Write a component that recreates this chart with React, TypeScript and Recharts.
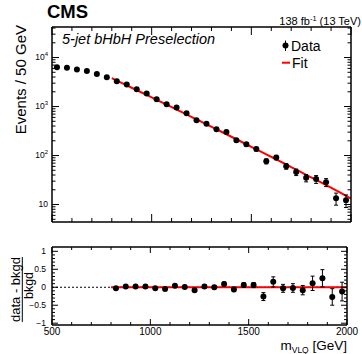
import React from 'react';
import { ComposedChart, Scatter, Line, XAxis, YAxis, ErrorBar, ReferenceLine } from 'recharts';

// ---------------- data ----------------
const binCenters = [525, 575, 625, 675, 725, 775, 825, 875, 925, 975, 1025, 1075, 1125, 1175, 1225, 1275, 1325, 1375, 1425, 1475, 1525, 1575, 1625, 1675, 1725, 1775, 1825, 1875, 1925, 1975];
const eventCounts = [6300, 6200, 5700, 5330, 4630, 3960, 3280, 2810, 2250, 1840, 1410, 1110, 955, 730, 525, 447, 344, 303, 205, 170, 136, 76.5, 91, 60.5, 46, 35, 33, 28.5, 13.4, 12.2];
const eventErrors = [79, 79, 75, 73, 68, 63, 57, 53, 47, 43, 38, 33, 31, 27, 23, 21, 19, 17, 14, 13, 12, 9, 9.5, 8, 7, 6, 6, 5.3, 3.7, 3.5];

const fitMass = [800, 825, 875, 925, 975, 1025, 1075, 1125, 1175, 1225, 1275, 1325, 1375, 1425, 1475, 1525, 1575, 1625, 1675, 1725, 1775, 1825, 1875, 1925, 1975, 2000];
const fitValues = [3800, 3390, 2704, 2158, 1722, 1371, 1091, 867, 689, 547, 434.5, 344, 272, 215, 170, 134, 106, 83.4, 65.6, 51.5, 40.5, 31.8, 24.9, 19.5, 15.1, 13.3];

const ratioMass = [825, 875, 925, 975, 1025, 1075, 1125, 1175, 1225, 1275, 1325, 1375, 1425, 1475, 1525, 1575, 1625, 1675, 1725, 1775, 1825, 1875, 1925, 1975];
const ratioValues = [-0.03, 0.02, 0.02, 0.02, -0.03, -0.05, 0.04, 0.01, -0.08, 0.02, 0, 0.09, -0.06, 0.06, 0.06, -0.26, 0.15, -0.03, -0.02, -0.08, 0.11, 0.25, -0.27, -0.12];
const ratioErrors = [0.02, 0.02, 0.02, 0.025, 0.03, 0.03, 0.035, 0.04, 0.04, 0.045, 0.05, 0.055, 0.06, 0.065, 0.07, 0.11, 0.14, 0.11, 0.12, 0.13, 0.2, 0.24, 0.23, 0.26];

const xTicks = [500, 600, 700, 800, 900, 1000, 1100, 1200, 1300, 1400, 1500, 1600, 1700, 1800, 1900, 2000];
const xMajorTicks = [500, 1000, 1500, 2000];

const yMajorTicks = [10, 100, 1000, 10000];
const yMajorExponents = ['', '2', '3', '4'];
const yTicks = [5, 6, 7, 8, 9, 10, 20, 30, 40, 50, 60, 70, 80, 90, 100, 200, 300, 400, 500, 600, 700, 800, 900, 1000, 2000, 3000, 4000, 5000, 6000, 7000, 8000, 9000, 10000, 20000, 30000, 40000];

const ratioTicks = [-1, -0.9, -0.8, -0.7, -0.6, -0.5, -0.4, -0.3, -0.2, -0.1, 0, 0.1, 0.2, 0.3, 0.4, 0.5, 0.6, 0.7, 0.8, 0.9, 1];
const ratioMajorTicks = [-1, -0.5, 0, 0.5, 1];
const ratioTickLabels = ['\u22121', '\u22120.5', '0', '0.5', '1'];

// ---------------- tables ----------------
const dataRows = binCenters.map((x, i) => ({ x, y: eventCounts[i], err: eventErrors[i] }));
const fitRows = fitMass.map((x, i) => ({ x, y: fitValues[i] }));
const ratioRows = ratioMass.map((x, i) => ({ x, y: ratioValues[i], err: ratioErrors[i] }));
const ratioFitRows = [fitMass[0], fitMass[fitMass.length - 1]].map((x) => ({ x, y: 0 }));

const FONT = "'Liberation Sans', Arial, Helvetica, sans-serif";
const W = 362;
const H = 354;

const isIn = (arr: number[], v: number) => arr.some((a) => Math.abs(a - v) < 1e-9);

function makeXTick(side: 'top' | 'bottom', majorLen: number, minorLen: number, withLabel: boolean) {
  return (props: any) => {
    const { x, y, payload } = props;
    const v = payload.value;
    const major = isIn(xMajorTicks, v);
    const len = major ? majorLen : minorLen;
    const dir = side === 'bottom' ? -1 : 1;
    return (
      <g>
        <line x1={x} x2={x} y1={y} y2={y + dir * len} stroke="#000" strokeWidth={1} />
        {withLabel && major && (
          <text x={x} y={y + 9.5} textAnchor="middle" fontSize={10} fontFamily={FONT} fill="#000">
            {v}
          </text>
        )}
      </g>
    );
  };
}

function makeLogYTick(side: 'left' | 'right') {
  return (props: any) => {
    const { x, y, payload } = props;
    const v = payload.value;
    const mi = yMajorTicks.findIndex((m) => Math.abs(m - v) < 1e-9);
    const major = mi >= 0;
    const len = major ? 7 : 3.5;
    const dir = side === 'left' ? 1 : -1;
    return (
      <g>
        <line x1={x} x2={x + dir * len} y1={y} y2={y} stroke="#000" strokeWidth={1} />
        {side === 'left' && major && (
          <text x={x - 4} y={y + 2} textAnchor="end" fontSize={8.5} fontFamily={FONT} fill="#000">
            10
            {yMajorExponents[mi] !== '' && (
              <tspan fontSize={6} dy={-3.5}>
                {yMajorExponents[mi]}
              </tspan>
            )}
          </text>
        )}
      </g>
    );
  };
}

function makeRatioYTick(side: 'left' | 'right') {
  return (props: any) => {
    const { x, y, payload } = props;
    const v = payload.value;
    const mi = ratioMajorTicks.findIndex((m) => Math.abs(m - v) < 1e-9);
    const major = mi >= 0;
    const len = major ? 6 : 3;
    const dir = side === 'left' ? 1 : -1;
    return (
      <g>
        <line x1={x} x2={x + dir * len} y1={y} y2={y} stroke="#000" strokeWidth={1} />
        {side === 'left' && major && (
          <text x={x - 6} y={y + 3} textAnchor="end" fontSize={8.5} fontFamily={FONT} fill="#000">
            {ratioTickLabels[mi]}
          </text>
        )}
      </g>
    );
  };
}

const Dot = (props: any) => {
  const { cx, cy } = props;
  if (cx == null || cy == null) return null;
  return <circle cx={cx} cy={cy} r={3} fill="#000" />;
};

const axisLine = { stroke: '#000', strokeWidth: 1.5 };

export default function App() {
  return (
    <div style={{ position: 'absolute', left: 0, top: 0, width: W, height: H, background: '#fff' }}>
      {/* upper panel */}
      <div style={{ position: 'absolute', left: 0, top: 0 }}>
        <ComposedChart width={W} height={230} margin={{ top: 26, right: 10, bottom: 7, left: 51 }}>
          <XAxis xAxisId="b" dataKey="x" type="number" domain={[500, 2000]} allowDataOverflow ticks={xTicks} interval={0}
            height={1} tickSize={0} tickMargin={0} tickLine={false} axisLine={axisLine} tick={makeXTick('bottom', 8, 4, false)} />
          <XAxis xAxisId="t" dataKey="x" type="number" orientation="top" domain={[500, 2000]} allowDataOverflow ticks={xTicks} interval={0}
            height={1} tickSize={0} tickMargin={0} tickLine={false} axisLine={axisLine} tick={makeXTick('top', 8, 4, false)} />
          <YAxis yAxisId="l" dataKey="y" type="number" scale="log" domain={[4.4, 42000]} allowDataOverflow ticks={yTicks} interval={0}
            width={1} tickSize={0} tickMargin={0} tickLine={false} axisLine={axisLine} tick={makeLogYTick('left')} />
          <YAxis yAxisId="r" dataKey="y" type="number" orientation="right" scale="log" domain={[4.4, 42000]} allowDataOverflow ticks={yTicks} interval={0}
            width={1} tickSize={0} tickMargin={0} tickLine={false} axisLine={axisLine} tick={makeLogYTick('right')} />
          <Line xAxisId="t" yAxisId="r" data={fitRows} dataKey="y" type="monotone" stroke="#ff0000" strokeWidth={2}
            dot={false} activeDot={false} isAnimationActive={false} />
          <Scatter xAxisId="b" yAxisId="l" data={dataRows} dataKey="y" shape={Dot} isAnimationActive={false}>
            <ErrorBar dataKey="err" direction="y" width={2} stroke="#000" strokeWidth={1} isAnimationActive={false} />
          </Scatter>
        </ComposedChart>
      </div>

      {/* ratio panel */}
      <div style={{ position: 'absolute', left: 0, top: 0 }}>
        <ComposedChart width={W} height={H} margin={{ top: 246, right: 14, bottom: 28, left: 51 }}>
          <XAxis xAxisId="b" dataKey="x" type="number" domain={[500, 2000]} allowDataOverflow ticks={xTicks} interval={0}
            height={1} tickSize={0} tickMargin={0} tickLine={false} axisLine={axisLine} tick={makeXTick('bottom', 6, 3, true)} />
          <XAxis xAxisId="t" dataKey="x" type="number" orientation="top" domain={[500, 2000]} allowDataOverflow ticks={xTicks} interval={0}
            height={1} tickSize={0} tickMargin={0} tickLine={false} axisLine={axisLine} tick={makeXTick('top', 6, 3, false)} />
          <YAxis yAxisId="l" dataKey="y" type="number" domain={[-1.05, 1.12]} allowDataOverflow ticks={ratioTicks} interval={0}
            width={1} tickSize={0} tickMargin={0} tickLine={false} axisLine={axisLine} tick={makeRatioYTick('left')} />
          <YAxis yAxisId="r" dataKey="y" type="number" orientation="right" domain={[-1.05, 1.12]} allowDataOverflow ticks={ratioTicks} interval={0}
            width={1} tickSize={0} tickMargin={0} tickLine={false} axisLine={axisLine} tick={makeRatioYTick('right')} />
          <ReferenceLine xAxisId="b" yAxisId="l" y={0} stroke="#000" strokeWidth={1} strokeDasharray="2 2" />
          <Line xAxisId="t" yAxisId="r" data={ratioFitRows} dataKey="y" type="linear" stroke="#ff0000" strokeWidth={2}
            dot={false} activeDot={false} isAnimationActive={false} />
          <Scatter xAxisId="b" yAxisId="l" data={ratioRows} dataKey="y" shape={Dot} isAnimationActive={false}>
            <ErrorBar dataKey="err" direction="y" width={2} stroke="#000" strokeWidth={1} isAnimationActive={false} />
          </Scatter>
        </ComposedChart>
      </div>

      {/* text overlay */}
      <svg width={W} height={H} style={{ position: 'absolute', left: 0, top: 0, pointerEvents: 'none' }} fontFamily={FONT}>
        <text x={47} y={18.3} fontSize={18.5} fontWeight="bold" fill="#000">CMS</text>
        <text x={361} y={25} fontSize={11} textAnchor="end" fill="#000">
          138 fb<tspan fontSize={7.5} dy={-4}>-1</tspan>
          <tspan dy={4}> (13 TeV)</tspan>
        </text>
        <text x={62} y={44.3} fontSize={14.5} fontStyle="italic" fill="#000">5-jet bHbH Preselection</text>

        {/* legend */}
        <line x1={285.5} x2={285.5} y1={40.5} y2={51} stroke="#000" strokeWidth={1} />
        <circle cx={285.5} cy={45.5} r={3} fill="#000" />
        <text x={291} y={50.5} fontSize={14} fill="#000">Data</text>
        <line x1={282} x2={290} y1={62.7} y2={62.7} stroke="#ff0000" strokeWidth={2} />
        <text x={292} y={68} fontSize={14} fill="#000">Fit</text>

        {/* y titles */}
        <text x={25.5} y={25} fontSize={15} textAnchor="end" transform="rotate(-90 25.5 25)" fill="#000">Events / 50 GeV</text>
        <text x={19.5} y={289.5} fontSize={13} textAnchor="middle" transform="rotate(-90 19.5 289.5)" fill="#000">data - bkgd</text>
        <line x1={22.3} x2={22.3} y1={257} y2={322} stroke="#000" strokeWidth={1} />
        <text x={33} y={285.5} fontSize={12.5} textAnchor="middle" transform="rotate(-90 33 285.5)" fill="#000">bkgd</text>

        {/* x title */}
        <text x={347} y={349.5} fontSize={13.5} textAnchor="end" fill="#000">
          m<tspan fontSize={8.5} dy={3.5}>VLQ</tspan>
          <tspan dy={-3.5}> [GeV]</tspan>
        </text>
      </svg>
    </div>
  );
}
